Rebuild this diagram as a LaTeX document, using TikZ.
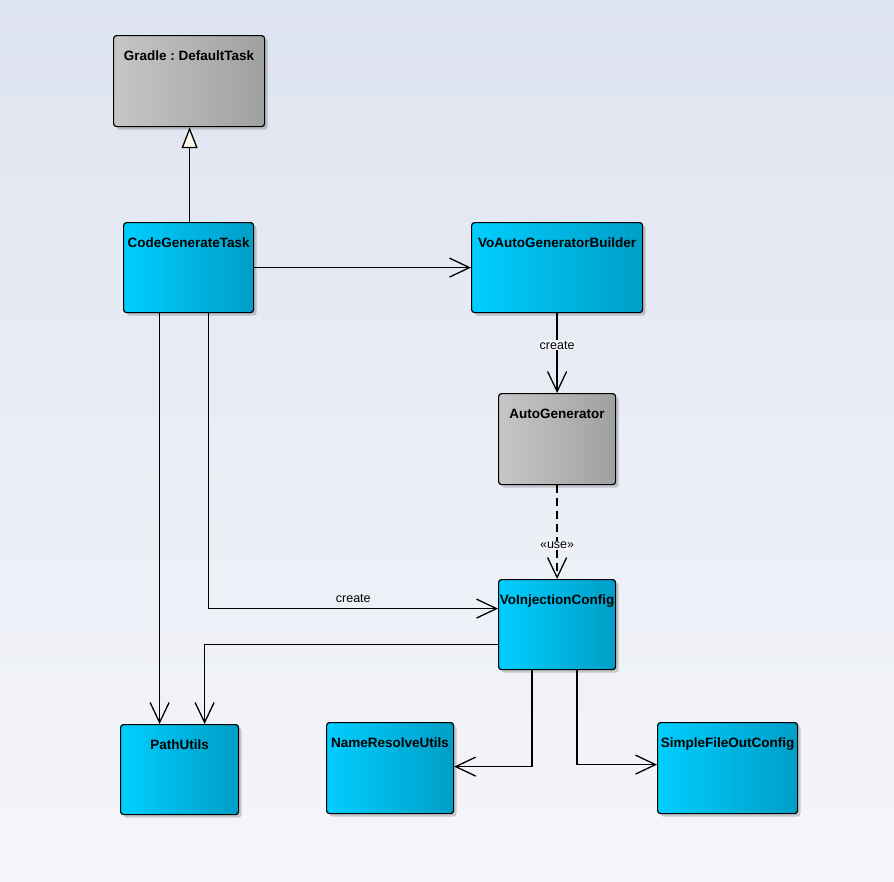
\documentclass[tikz,border=0pt]{standalone}
\usepackage{fontspec}
\setmainfont{Liberation Sans}
\frenchspacing
\usetikzlibrary{arrows.meta,shadows}
\definecolor{bgtop}{RGB}{222,228,240}
\definecolor{bgbot}{RGB}{245,246,250}
\definecolor{cyanL}{RGB}{0,206,255}
\definecolor{cyanM}{RGB}{0,192,238}
\definecolor{cyanR}{RGB}{0,158,198}
\definecolor{grayL}{RGB}{198,198,198}
\definecolor{grayR}{RGB}{160,160,160}
\definecolor{genfill}{RGB}{255,249,236}
\definecolor{lblbg}{RGB}{244,246,251}
\tikzset{
  box/.style={draw=black, line width=1.2pt, rounded corners=3pt, anchor=north west,
    inner sep=0pt, drop shadow={shadow xshift=3pt, shadow yshift=-3pt, opacity=0.18, fill=black}},
  cyanbox/.style={box, left color=cyanL, middle color=cyanM, right color=cyanR},
  graybox/.style={box, left color=grayL, right color=grayR},
  title/.style={anchor=base, font=\fontsize{13.5}{15}\selectfont\bfseries, inner sep=0pt},
  conn/.style={line width=1.3pt, -{Straight Barb[length=20pt,width=19pt,line width=1.3pt]}},
  usedep/.style={conn, dash pattern=on 8pt off 5pt},
  gen/.style={line width=1.3pt, -{Triangle[length=21pt,width=16pt,fill=genfill,line width=1.3pt]}},
  lbl/.style={font=\fontsize{12.5}{14}\selectfont, fill=lblbg, inner sep=1pt}
}
\begin{document}
\begin{tikzpicture}[x=1pt,y=-1pt]
\shade[top color=bgtop, bottom color=bgbot] (0,0) rectangle (894,881);
\useasboundingbox (0,0) rectangle (894,881);

% boxes
\node[graybox, minimum width=151pt, minimum height=91pt] (gdt) at (113,35) {};
\node[cyanbox, minimum width=130pt, minimum height=90pt] (cgt) at (123,222) {};
\node[cyanbox, minimum width=171pt, minimum height=90pt] (vab) at (471,222) {};
\node[graybox, minimum width=117pt, minimum height=91pt] (ag) at (498,393) {};
\node[cyanbox, minimum width=117pt, minimum height=90pt] (vic) at (498,579) {};
\node[cyanbox, minimum width=118pt, minimum height=90pt] (pu) at (120,724) {};
\node[cyanbox, minimum width=127pt, minimum height=91pt] (nr) at (326,722) {};
\node[cyanbox, minimum width=140pt, minimum height=91pt] (sfo) at (657,722) {};

% titles
\node[title] (gdt-t) at ([yshift=-25pt]gdt.north) {Gradle : DefaultTask};
\node[title] (cgt-t) at ([yshift=-25pt]cgt.north) {CodeGenerateTask};
\node[title] (vab-t) at ([yshift=-25pt]vab.north) {VoAutoGeneratorBuilder};
\node[title] (ag-t) at ([yshift=-25pt]ag.north) {AutoGenerator};
\node[title] (vic-t) at ([yshift=-25pt]vic.north) {VoInjectionConfig};
\node[title] (pu-t) at ([yshift=-25pt]pu.north) {PathUtils};
\node[title] (nr-t) at ([yshift=-25pt]nr.north) {NameResolveUtils};
\node[title] (sfo-t) at ([yshift=-25pt]sfo.north) {SimpleFileOutConfig};

% connectors
\coordinate (c-gen) at ([xshift=1pt]cgt.north);
\draw[gen] (c-gen) -- (c-gen |- gdt.south);
\draw[conn] (cgt.east) -- (vab.west);
\draw[conn] (vab.south) -- (ag.north) node[lbl, pos=0.4] {create};
\draw[usedep] (ag.south) -- (vic.north) node[lbl, pos=0.64] {«use»};
\draw[conn] ([xshift=20pt]cgt.south) |- ([yshift=16pt]vic.west)
  node[pos=0.75, above=4pt, font=\fontsize{12.5}{14}\selectfont, inner sep=1pt] {create};
\coordinate (c-pu) at ([xshift=-29pt]cgt.south);
\draw[conn] (c-pu) -- (c-pu |- pu.north);
\draw[conn] ([yshift=-20pt]vic.west) -| ([xshift=25pt]pu.north);
\draw[conn] ([xshift=-25pt]vic.south) |- ([yshift=1.5pt]nr.east);
\draw[conn] ([xshift=20pt]vic.south) |- ([yshift=3.5pt]sfo.west);
\end{tikzpicture}
\end{document}
